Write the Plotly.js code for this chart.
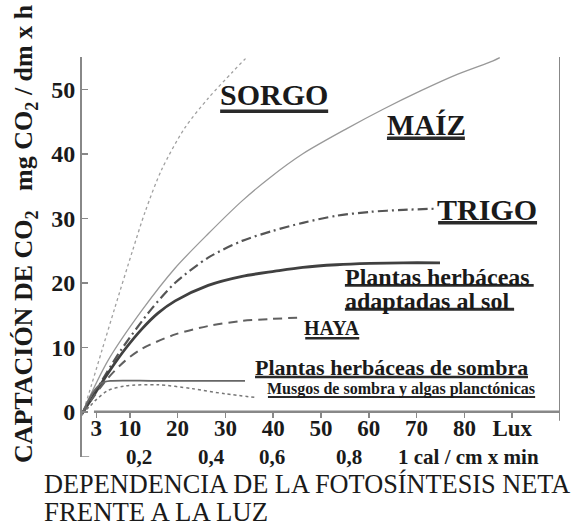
<!DOCTYPE html>
<html>
<head>
<meta charset="utf-8">
<script src="https://cdn.plot.ly/plotly-3.0.1.min.js"></script>
<style>
html,body{margin:0;padding:0;background:#fff;}
#chart{width:579px;height:526px;}
</style>
</head>
<body>
<div id="chart"></div>
<script>
// ---- data (lux vs mg CO2 / dm x h) ----
const sorgoX = [0, 2.0, 4.2, 6.9, 10.5, 13.2, 16.7, 21.5, 26.4, 31.4, 34.0, 35.5];
const sorgoY = [-0.6, 4.2, 9.6, 16.2, 24.8, 31.0, 37.6, 44.0, 48.6, 52.6, 54.6, 55.6];

const maizX = [0, 5.4, 12.6, 19.5, 26.4, 33.5, 39.3, 46.2, 55.4, 63.0, 70.7, 78.5, 86.0, 87.4];
const maizY = [-0.2, 7.9, 15.8, 22.3, 27.6, 32.7, 36.3, 40.0, 43.9, 46.9, 49.7, 52.3, 54.4, 54.9];

const trigoX = [0, 2.7, 7.9, 14.6, 19.5, 26.4, 33.5, 39.7, 46.2, 53.3, 60.3, 67.2, 74.3];
const trigoY = [-0.3, 3.0, 9.3, 16.0, 20.0, 23.9, 26.5, 28.0, 29.3, 30.4, 31.0, 31.3, 31.5];

const solX = [0, 3.0, 6.0, 9.0, 12.6, 15.9, 19.5, 26.4, 33.5, 40.4, 46.2, 53.3, 60.3, 67.2, 74.9];
const solY = [-0.3, 3.2, 6.6, 9.7, 12.9, 15.3, 17.2, 19.6, 21.0, 21.8, 22.4, 22.8, 23.0, 23.1, 23.1];

const hayaX = [0, 2.7, 5.4, 9.0, 12.6, 19.5, 26.4, 33.5, 39.7, 45.0];
const hayaY = [-0.3, 2.6, 5.2, 7.9, 9.8, 12.0, 13.3, 14.1, 14.4, 14.6];

const sombraX = [0, 1.3, 2.7, 4.2, 5.9, 15.0, 25.0, 34.1];
const sombraY = [-0.3, 1.7, 3.4, 4.5, 4.8, 4.8, 4.8, 4.8];

const musgosX = [0, 1.7, 2.7, 5.4, 9.0, 15.9, 23.0, 29.9, 36.6];
const musgosY = [-0.3, 0.9, 1.7, 3.3, 4.0, 4.2, 3.6, 2.8, 2.2];

const luxTicks = [3, 10, 20, 30, 40, 50, 60, 70, 80, 90];
const luxLabels = ['3', '10', '20', '30', '40', '50', '60', '70', '80', 'Lux'];
const yTicks = [0, 10, 20, 30, 40, 50];

const calPos = [11.9, 27.0, 39.7, 55.9, 80.8];
const calLabels = ['0,2', '0,4', '0,6', '0,8', '1 cal / cm x min'];

const seriesLabels = ['SORGO', 'MAÍZ', 'TRIGO', 'Plantas herbáceas', 'adaptadas al sol', 'HAYA',
  'Plantas herbáceas de sombra', 'Musgos de sombra y algas planctónicas'];

// ---- traces ----
function tr(x, y, color, width, dash) {
  return {x: x, y: y, type: 'scatter', mode: 'lines', hoverinfo: 'skip', showlegend: false,
    line: {color: color, width: width, dash: dash, shape: 'spline', smoothing: 0.8}};
}
const traces = [
  tr(sorgoX, sorgoY, '#a0a0a0', 1.3, 'dot'),
  tr(maizX, maizY, '#999999', 1.3, 'solid'),
  tr(trigoX, trigoY, '#555555', 2.2, '10px,4px,2px,4px'),
  tr(solX, solY, '#404040', 2.8, 'solid'),
  tr(hayaX, hayaY, '#606060', 2.0, '9px,6px'),
  tr(sombraX, sombraY, '#666666', 1.8, 'solid'),
  tr(musgosX, musgosY, '#777777', 1.5, '3px,3px')
];

const SERIF = '"Liberation Serif", "DejaVu Serif", "Times New Roman", Times, serif';
// label placement: [x, y, size, anchor, underline x0, underline x1, underline y, underline width]
const labelPlace = [
  [40.2, 49.2, 30, 'center', 28.9, 51.5, 46.6, 3.5],
  [72.0, 44.4, 29, 'center', 63.8, 80.1, 42.4, 3.5],
  [84.7, 31.4, 30, 'center', 74.5, 95.2, 29.3, 3.5],
  [54.6, 20.9, 24, 'left', 55.0, 94.5, 19.6, 2.8],
  [54.6, 17.2, 24, 'left', 55.0, 90.4, 15.9, 2.8],
  [52.3, 13.0, 20, 'center', 46.7, 58.0, 11.4, 2.5],
  [35.8, 6.8, 22, 'left', 36.2, 93.3, 5.4, 2.5],
  [38.3, 3.5, 16, 'left', 38.9, 94.8, 2.3, 2]
];

const annotations = [];
const shapes = [
  {type: 'line', xref: 'x', yref: 'y', x0: 2.5, x1: 100, y0: 0, y1: 0,
    line: {color: '#888', width: 2.5}},
  {type: 'line', xref: 'x', yref: 'y', x0: 100, x1: 100, y0: -1.4, y1: 55,
    line: {color: '#888', width: 2}},
  {type: 'line', xref: 'x', yref: 'y', x0: 0, x1: 1.5, y0: -7, y1: -7,
    line: {color: '#888', width: 1.5}}
];
seriesLabels.forEach(function (t, i) {
  const p = labelPlace[i];
  annotations.push({text: '<b>' + t + '</b>', x: p[0], y: p[1], xref: 'x', yref: 'y',
    showarrow: false, xanchor: p[3], yanchor: 'middle',
    font: {family: SERIF, size: p[2], color: '#1a1a1a'}});
  shapes.push({type: 'line', xref: 'x', yref: 'y', x0: p[4], x1: p[5], y0: p[6], y1: p[6],
    layer: 'above', line: {color: '#2a2a2a', width: p[7]}});
});
calPos.forEach(function (p, i) {
  annotations.push({text: '<b>' + calLabels[i] + '</b>', x: p, y: -7, xref: 'x', yref: 'y',
    showarrow: false, xanchor: 'center', yanchor: 'middle',
    font: {family: SERIF, size: 21, color: '#1a1a1a'}});
});
annotations.push({text: '<b>CAPTACIÓN DE CO<sub>2</sub>   mg CO<sub>2</sub> / dm x h</b>',
  xref: 'paper', yref: 'paper', x: -0.119, y: 0.5575, textangle: -90, showarrow: false,
  xanchor: 'center', yanchor: 'middle', font: {family: SERIF, size: 26, color: '#1a1a1a'}});
annotations.push({text: 'DEPENDENCIA DE LA FOTOSÍNTESIS NETA', xref: 'paper', yref: 'paper',
  x: -0.083, y: -0.0675, xanchor: 'left', yanchor: 'middle', showarrow: false,
  font: {family: SERIF, size: 26.3, color: '#1a1a1a'}});
annotations.push({text: 'FRENTE A LA LUZ', xref: 'paper', yref: 'paper',
  x: -0.083, y: -0.137, xanchor: 'left', yanchor: 'middle', showarrow: false,
  font: {family: SERIF, size: 26.8, color: '#1a1a1a'}});

const layout = {
  width: 579, height: 526,
  margin: {l: 82, r: 19, t: 57, b: 69},
  paper_bgcolor: '#ffffff', plot_bgcolor: '#ffffff',
  showlegend: false,
  font: {family: SERIF},
  xaxis: {range: [0, 100], anchor: 'free', position: 7 / 62, tickmode: 'array',
    tickvals: luxTicks, ticktext: luxLabels, ticks: 'outside', ticklen: 5, tickwidth: 1.5,
    tickcolor: '#888', showline: false, showgrid: false, zeroline: false,
    ticklabelstandoff: -9,
    tickfont: {family: SERIF, size: 23, color: '#1a1a1a', weight: 'bold'}},
  xaxis2: {range: [0, 100], overlaying: 'x', side: 'top', anchor: 'y', tickmode: 'array',
    tickvals: luxTicks, ticks: 'inside', ticklen: 6, tickwidth: 1.5, tickcolor: '#888',
    showticklabels: false, showline: true, linecolor: '#999', linewidth: 2,
    showgrid: false, zeroline: false},
  yaxis: {range: [-7, 55], tickmode: 'array', tickvals: yTicks, ticks: 'inside', ticklen: 6,
    tickwidth: 1.5, tickcolor: '#888', showline: true, linecolor: '#888', linewidth: 2,
    showgrid: false, zeroline: false,
    tickfont: {family: SERIF, size: 24, color: '#1a1a1a', weight: 'bold'}},
  shapes: shapes,
  annotations: annotations
};

Plotly.newPlot('chart', traces, layout, {displayModeBar: false, staticPlot: true});
</script>
</body>
</html>
